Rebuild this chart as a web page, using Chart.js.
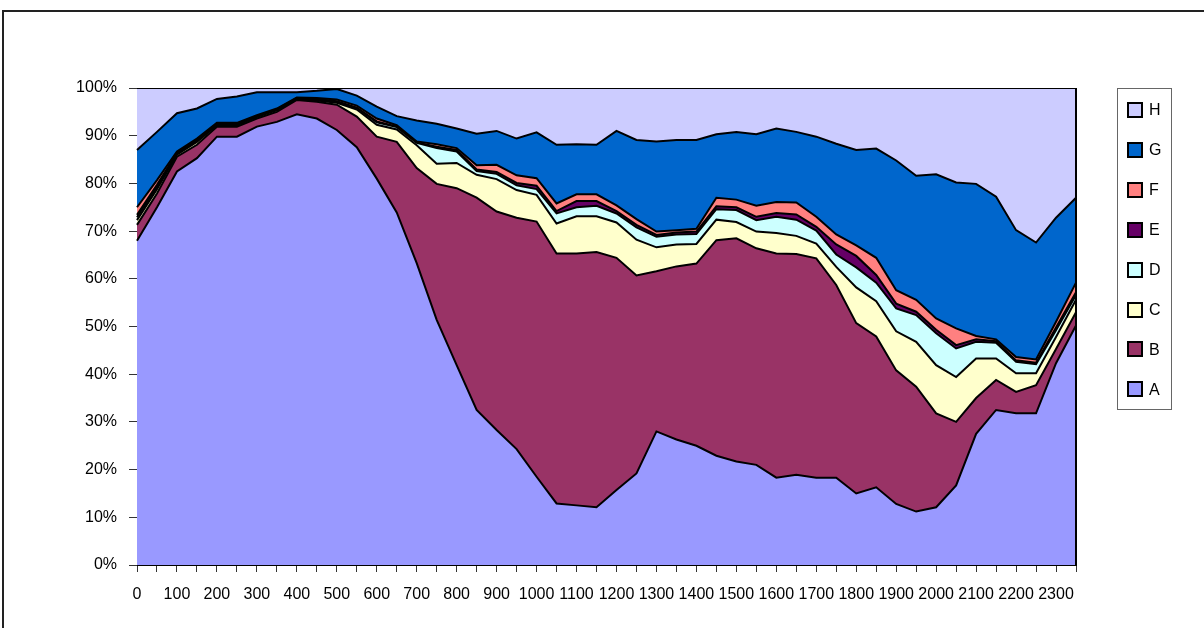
<!DOCTYPE html>
<html>
<head>
<meta charset="utf-8">
<script src="https://cdn.jsdelivr.net/npm/chart.js@4/dist/chart.umd.min.js"></script>
<style>
  html, body { margin: 0; padding: 0; background: #fff; }
  #wrap { width: 1204px; height: 628px; }
</style>
</head>
<body>
<div id="wrap"><canvas id="areaChart" width="1204" height="628"></canvas></div>
<script>
const times = ["0", "30", "100", "130", "200", "230", "300", "330", "400", "430", "500", "530",
  "600", "630", "700", "730", "800", "830", "900", "930", "1000", "1030", "1100", "1130",
  "1200", "1230", "1300", "1330", "1400", "1430", "1500", "1530", "1600", "1630", "1700", "1730",
  "1800", "1830", "1900", "1930", "2000", "2030", "2100", "2130", "2200", "2230", "2300", "2330"];

const seriesNames = ["A", "B", "C", "D", "E", "F", "G", "H"];
const seriesColors = ["#9999FF", "#993366", "#FFFFCC", "#CCFFFF", "#660066", "#FF8080", "#0066CC", "#CCCCFF"];

const valuesA = [68.0, 75.0, 82.5, 85.3, 89.8, 89.8, 91.9, 92.9, 94.5, 93.6, 91.2, 87.6, 81.0, 73.9, 63.3, 51.4,
  41.9, 32.5, 28.3, 24.3, 18.5, 12.9, 12.5, 12.1, 15.7, 19.2, 28.0, 26.3, 25.0, 22.9, 21.7, 21.0,
  18.3, 18.9, 18.3, 18.3, 15.0, 16.3, 12.8, 11.2, 12.1, 16.7, 27.5, 32.5, 31.8, 31.8, 42.3, 50.2];
const valuesB = [3.3, 2.9, 3.1, 2.8, 2.1, 2.1, 1.7, 2.1, 3.0, 3.5, 5.3, 6.4, 8.8, 14.8, 19.9, 28.5,
  37.1, 44.5, 45.8, 48.5, 53.5, 52.4, 52.8, 53.5, 48.7, 41.5, 33.6, 36.3, 38.2, 45.2, 46.8, 45.4,
  47.0, 46.3, 46.0, 40.4, 35.7, 31.6, 28.0, 26.2, 19.7, 13.3, 7.5, 6.3, 4.5, 5.9, 3.0, 2.8];
const valuesC = [1.0, 0.9, 0.4, 0.6, 0.3, 0.3, 0.3, 0.3, 0.2, 0.3, 0.4, 1.5, 2.5, 2.6, 4.8, 4.2,
  5.3, 4.8, 6.8, 5.8, 5.6, 6.3, 7.8, 7.5, 7.4, 7.5, 5.0, 4.6, 4.1, 4.3, 3.4, 3.5,
  4.3, 3.8, 3.1, 3.8, 7.5, 7.4, 8.2, 9.4, 10.1, 9.4, 8.3, 4.5, 3.9, 2.5, 2.5, 2.6];
const valuesD = [0.6, 0.5, 0.2, 0.2, 0.2, 0.2, 0.1, 0.1, 0.1, 0.2, 0.2, 0.3, 0.5, 0.5, 0.5, 3.3,
  2.4, 0.8, 1.1, 1.0, 1.2, 2.1, 1.9, 2.2, 1.9, 2.6, 2.2, 2.1, 2.1, 2.2, 2.5, 2.4,
  3.4, 3.4, 2.7, 2.6, 4.2, 3.9, 4.8, 5.6, 6.7, 6.0, 3.5, 3.3, 2.4, 1.9, 1.4, 1.0];
const valuesE = [0.5, 0.4, 0.2, 0.2, 0.1, 0.1, 0.1, 0.1, 0.1, 0.1, 0.1, 0.1, 0.2, 0.1, 0.1, 0.3,
  0.3, 0.3, 0.4, 0.5, 0.7, 0.5, 1.3, 1.0, 0.5, 0.5, 0.4, 0.4, 0.5, 0.6, 0.6, 0.7,
  0.8, 1.1, 0.8, 2.1, 2.4, 1.6, 1.0, 0.7, 0.7, 0.7, 0.5, 0.3, 0.3, 0.3, 0.6, 0.6];
const valuesF = [1.6, 1.0, 0.3, 0.3, 0.2, 0.2, 0.2, 0.2, 0.1, 0.2, 0.4, 0.4, 0.6, 0.3, 0.2, 0.5,
  0.4, 0.9, 1.5, 1.6, 1.6, 1.6, 1.4, 1.4, 1.2, 1.2, 0.7, 0.5, 0.6, 1.8, 1.6, 2.3,
  2.3, 2.5, 2.1, 2.1, 2.2, 3.6, 2.8, 2.5, 2.4, 3.5, 0.7, 0.4, 0.7, 0.7, 1.2, 2.0];
const valuesG = [12.0, 10.1, 8.0, 6.3, 5.0, 5.5, 4.8, 3.4, 1.1, 1.5, 2.2, 2.1, 2.5, 1.9, 4.4, 4.3,
  4.1, 6.6, 7.1, 7.7, 9.6, 12.3, 10.5, 10.4, 15.6, 16.6, 18.9, 18.9, 18.6, 13.3, 14.2, 15.0,
  15.4, 14.8, 16.8, 19.0, 20.0, 22.9, 27.2, 26.0, 30.2, 30.6, 31.9, 29.9, 26.6, 24.5, 21.8, 17.8];
const valuesH = [13.0, 9.2, 5.3, 4.3, 2.3, 1.8, 0.9, 0.9, 0.9, 0.6, 0.2, 1.6, 3.9, 5.9, 6.8, 7.5,
  8.5, 9.6, 9.0, 10.6, 9.3, 11.9, 11.8, 11.9, 9.0, 10.9, 11.2, 10.9, 10.9, 9.7, 9.2, 9.7,
  8.5, 9.2, 10.2, 11.7, 13.0, 12.7, 15.2, 18.4, 18.1, 19.8, 20.1, 22.8, 29.8, 32.4, 27.2, 23.0];

const yTicks = [0, 10, 20, 30, 40, 50, 60, 70, 80, 90, 100];

const allValues = [valuesA, valuesB, valuesC, valuesD, valuesE, valuesF, valuesG, valuesH];

// 100% stacked: share of each series per time slot
const totals = times.map((t, i) => allValues.reduce((s, arr) => s + arr[i], 0));
const datasets = allValues.map((arr, k) => ({
  label: seriesNames[k],
  data: arr.map((v, i) => v / totals[i] * 100),
  backgroundColor: seriesColors[k],
  borderColor: "#000",
  borderWidth: 2,
  pointRadius: 0,
  tension: 0,
  fill: k === 0 ? "origin" : "-1"
}));

const FONT = "'Liberation Sans', Arial, sans-serif";

// frame, plot border and boxed legend
const decorations = {
  id: "decorations",
  afterDraw(chart) {
    const ctx = chart.ctx;
    const area = chart.chartArea;
    ctx.save();

    // right edge of the plot
    ctx.strokeStyle = "#000";
    ctx.lineWidth = 2;
    ctx.beginPath();
    ctx.moveTo(area.right, area.top);
    ctx.lineTo(area.right, area.bottom);
    ctx.stroke();

    // outer chart frame (runs off the bottom/right edge)
    ctx.strokeStyle = "#222";
    ctx.lineWidth = 2;
    ctx.strokeRect(3, 11, 1300, 700);

    // legend box
    ctx.strokeStyle = "#666";
    ctx.lineWidth = 1;
    ctx.strokeRect(1117.5, 88.5, 54, 321);

    ctx.font = "16px " + FONT;
    ctx.textBaseline = "middle";
    ctx.textAlign = "left";
    for (let k = 0; k < seriesNames.length; k++) {
      const idx = seriesNames.length - 1 - k;
      const cy = 110 + k * 39.9;
      ctx.fillStyle = seriesColors[idx];
      ctx.fillRect(1127, Math.round(cy) - 8, 16, 16);
      ctx.strokeStyle = "#000";
      ctx.lineWidth = 2;
      ctx.strokeRect(1128, Math.round(cy) - 7, 14, 14);
      ctx.fillStyle = "#000";
      ctx.fillText(seriesNames[idx], 1149, cy + 1);
    }
    ctx.restore();
  }
};

const ctxArea = document.getElementById("areaChart").getContext("2d");

new Chart(ctxArea, {
  type: "line",
  data: {
    labels: times,
    datasets: datasets
  },
  options: {
    responsive: false,
    animation: false,
    layout: {
      padding: { top: 88, right: 128, left: 0, bottom: 0 }
    },
    plugins: {
      legend: { display: false },
      title: { display: false },
      tooltip: { enabled: false }
    },
    scales: {
      x: {
        offset: false,
        afterFit: (scale) => { scale.height = 63; },
        grid: {
          drawOnChartArea: false,
          drawTicks: true,
          tickLength: 7,
          color: "#333"
        },
        border: { display: true, color: "#000", width: 1 },
        ticks: {
          autoSkip: false,
          maxRotation: 0,
          minRotation: 0,
          padding: 13,
          color: "#000",
          font: { family: FONT, size: 16 },
          callback: function (value, index) {
            return index % 2 === 0 ? times[index] : "";
          }
        }
      },
      y: {
        stacked: true,
        min: 0,
        max: 100,
        afterFit: (scale) => { scale.width = 137; },
        afterBuildTicks: (scale) => {
          scale.ticks = yTicks.map(v => ({ value: v }));
        },
        grid: {
          drawOnChartArea: false,
          drawTicks: true,
          tickLength: 8,
          color: "#333"
        },
        border: { display: true, color: "#000", width: 1 },
        ticks: {
          padding: 12,
          color: "#000",
          font: { family: FONT, size: 16 },
          callback: (value) => value + "%"
        }
      }
    }
  },
  plugins: [decorations]
});
</script>
</body>
</html>
